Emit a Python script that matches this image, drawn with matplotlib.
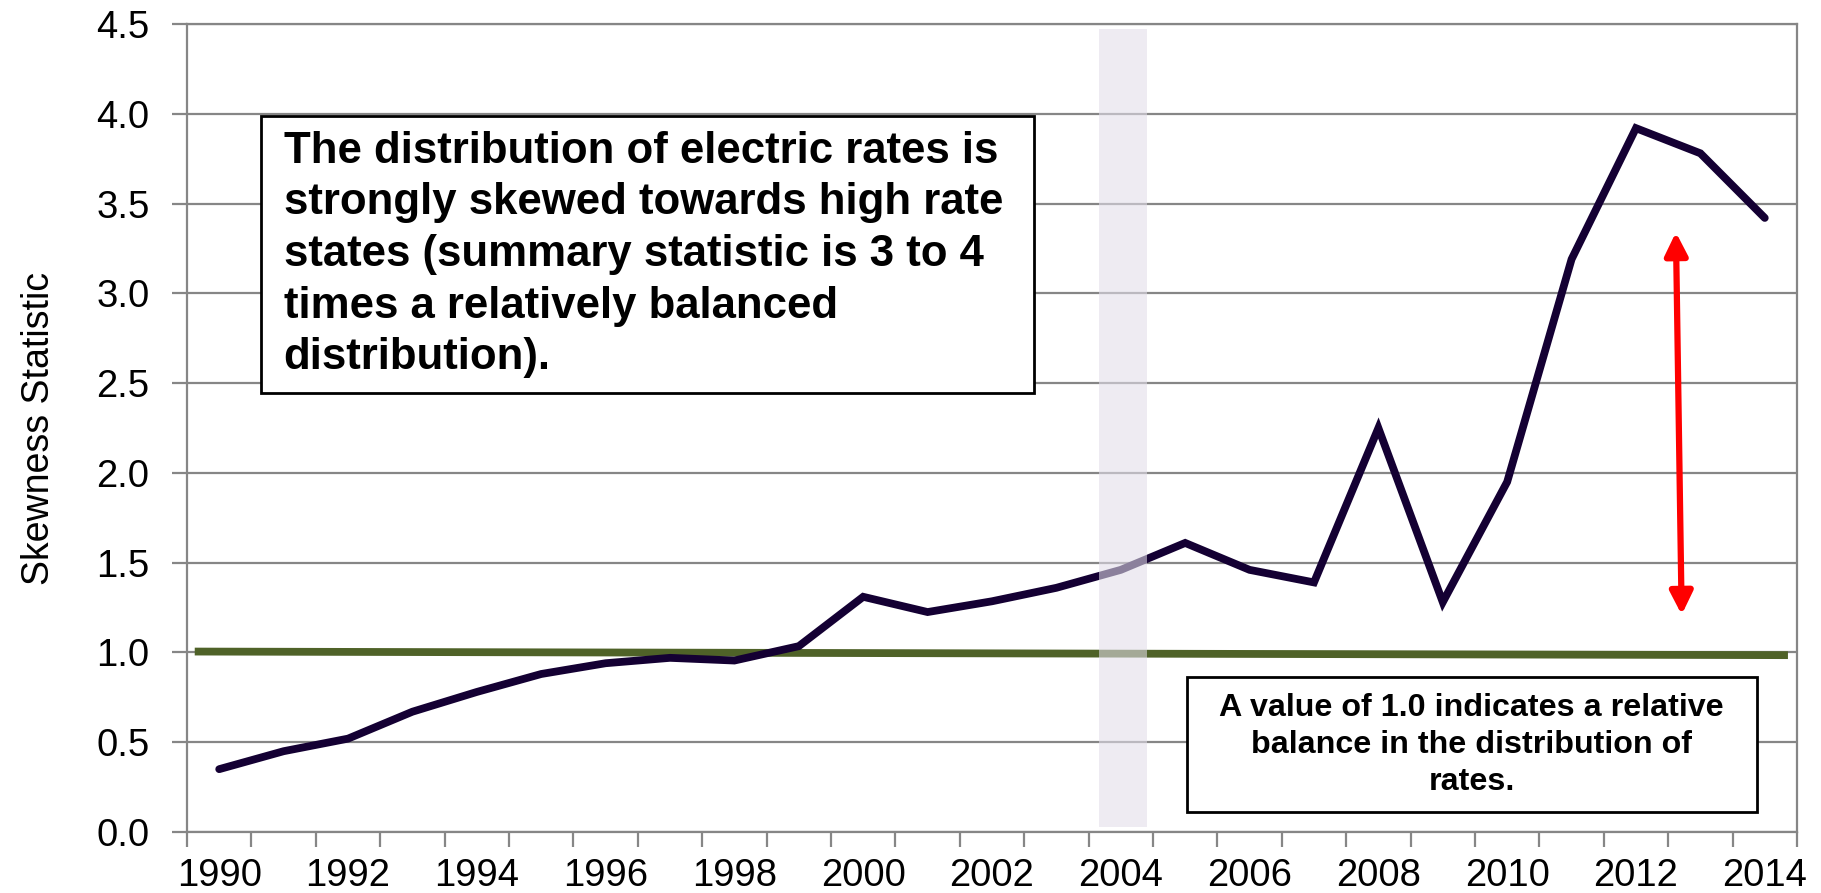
import matplotlib.pyplot as plt
from matplotlib.patches import Rectangle

plt.rcParams['font.family'] = ['Liberation Sans', 'DejaVu Sans']

# skewness statistic per year
years = list(range(1990, 2015))
skew = [0.35, 0.45, 0.52, 0.67, 0.78, 0.88, 0.94, 0.97, 0.955, 1.035,
        1.31, 1.225, 1.285, 1.36, 1.46, 1.61, 1.46, 1.39, 2.25, 1.28,
        1.95, 3.19, 3.92, 3.78, 3.42]
tick_years = years[::2]
yticks = [0.0, 0.5, 1.0, 1.5, 2.0, 2.5, 3.0, 3.5, 4.0, 4.5]

# reference line (drawn shape, very slightly sloped) and the 2004 band
ref_x = [1989.62, 2014.36]
ref_y = [1.005, 0.985]
band_x = [2003.66, 2004.41]
band_y = [0.03, 4.47]
arrow_top = (2012.62, 3.34)
arrow_bottom = (2012.71, 1.21)

note_main = ("The distribution of electric rates is\n"
             "strongly skewed towards high rate\n"
             "states (summary statistic is 3 to 4\n"
             "times a relatively balanced\n"
             "distribution).")
note_small = ("A value of 1.0 indicates a relative\n"
              "balance in the distribution of\n"
              "rates.")

grey = '#868686'

fig = plt.figure(figsize=(18.21, 8.93), dpi=100)
ax = fig.add_axes([0.1027, 0.0683, 0.9868 - 0.1027, 0.9731 - 0.0683])

ax.set_xlim(1989.5, 2014.5)
ax.set_ylim(0, 4.5)

ax.set_yticks(yticks)
ax.set_yticklabels([f"{v:.1f}" for v in yticks])
ax.yaxis.grid(True, color=grey, lw=1.6, zorder=0)
ax.set_axisbelow(True)

# tick marks between categories, labels on every other category
ax.set_xticks([y - 0.5 for y in years] + [years[-1] + 0.5])
ax.set_xticklabels([])
ax.set_xticks(tick_years, minor=True)
ax.set_xticklabels([str(y) for y in tick_years], minor=True)
ax.tick_params(axis='x', which='major', length=11, width=1.6, color=grey)
ax.tick_params(axis='x', which='minor', length=0, labelsize=27.5, pad=19)
ax.tick_params(axis='y', length=11, width=1.6, color=grey, labelsize=27.5, pad=16)

for s in ax.spines.values():
    s.set_color(grey)
    s.set_linewidth(1.6)

ax.set_ylabel("Skewness Statistic", fontsize=27, labelpad=28)

ax.plot(ref_x, ref_y, color='#4F6228', lw=5.6, solid_capstyle='butt', zorder=3)
ax.plot(years, skew, color='#140033', lw=5.6, solid_capstyle='round',
        solid_joinstyle='miter', zorder=4)

ax.add_patch(Rectangle((band_x[0], band_y[0]), band_x[1] - band_x[0],
                       band_y[1] - band_y[0], facecolor='#E2DEE9',
                       edgecolor='none', alpha=0.58, zorder=5))

# annotation boxes
ax.add_patch(Rectangle((1990.65, 2.444), 2002.65 - 1990.65, 3.99 - 2.444,
                       facecolor='white', edgecolor='black', lw=2, zorder=6))
ax.text(1991.0, 3.905, note_main, fontsize=31.5, fontweight='bold',
        ha='left', va='top', linespacing=1.33, zorder=7)

ax.add_patch(Rectangle((2005.03, 0.111), 2013.88 - 2005.03, 0.863 - 0.111,
                       facecolor='white', edgecolor='black', lw=2, zorder=6))
ax.text(2009.45, 0.485, note_small, fontsize=23.2, fontweight='bold',
        ha='center', va='center', multialignment='center',
        linespacing=1.32, zorder=7)

ax.annotate('', xy=arrow_top, xytext=arrow_bottom,
            arrowprops=dict(arrowstyle='<|-|>', color='red', lw=4.5,
                            mutation_scale=34, shrinkA=0, shrinkB=0),
            zorder=8)

fig.savefig('out.png', dpi=100)
